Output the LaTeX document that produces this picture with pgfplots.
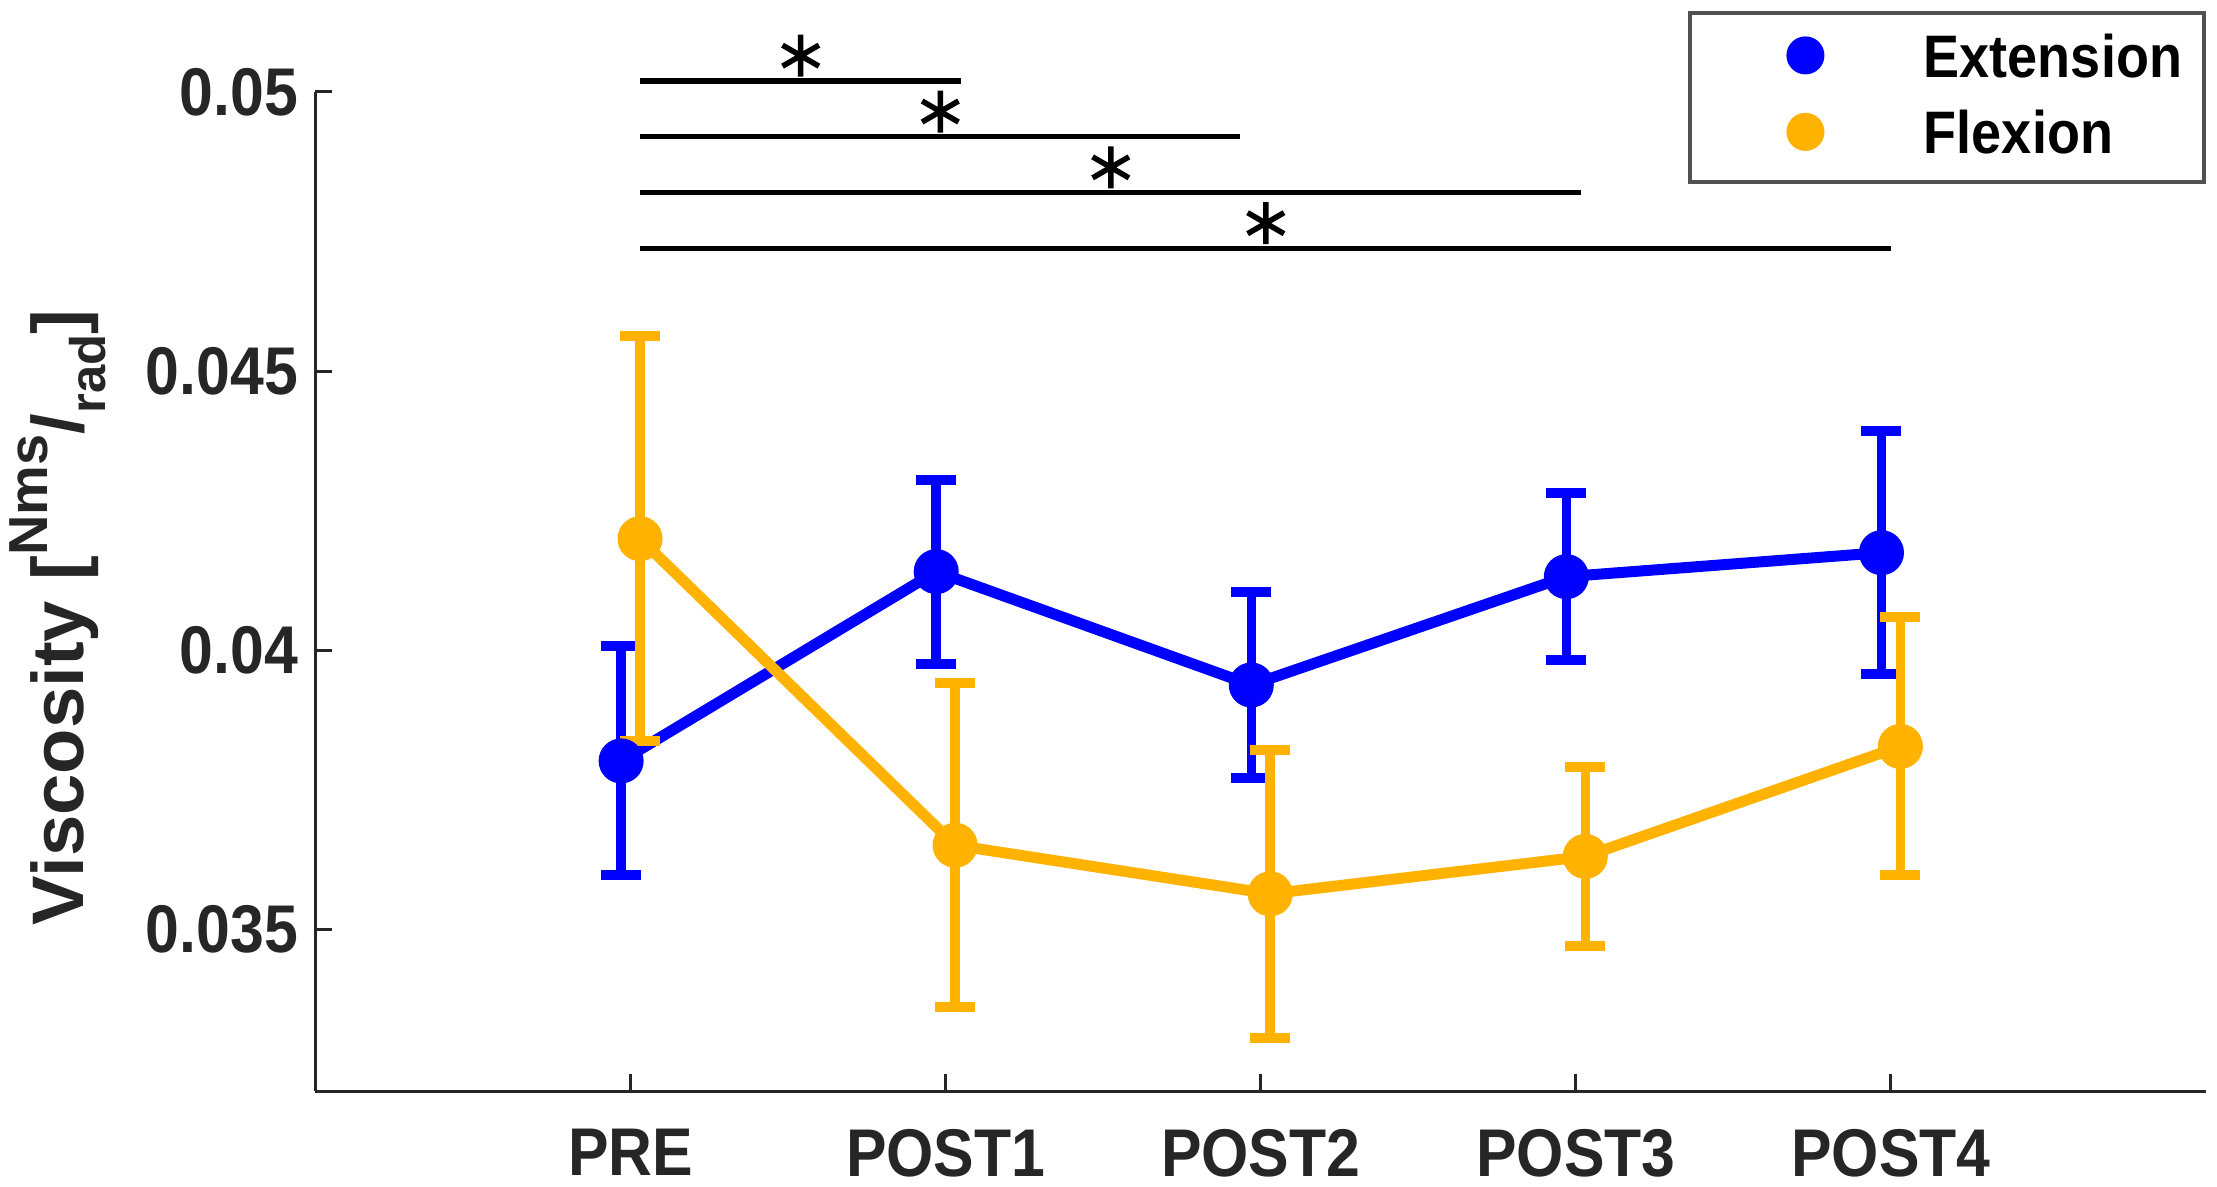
\documentclass[border=0pt]{standalone}
\usepackage{fontspec}
\setmainfont{Liberation Sans}[FakeStretch=0.9]
\usepackage{graphicx}
\usepackage{pgfplots}
\usepackage{pgfplotstable}
\pgfplotsset{compat=1.18}
\definecolor{ext}{RGB}{0,0,255}
\definecolor{flx}{RGB}{255,178,0}
\definecolor{axc}{RGB}{38,38,38}

\pgfplotstableread{
x y e
0.97 0.03802 0.00205
1.97 0.04141 0.00165
2.97 0.03938 0.00166
3.97 0.04132 0.00150
4.97 0.04175 0.00218
}\exttab
\pgfplotstableread{
x y e
1.03 0.04200 0.00363
2.03 0.03651 0.00290
3.03 0.03564 0.00258
4.03 0.03631 0.00160
5.03 0.03828 0.00231
}\flxtab

\begin{document}
\begin{tikzpicture}
\begin{axis}[
  name=ax,
  scale only axis, width=378.1pt, height=199.9pt,
  xmin=0, xmax=6, ymin=0.0321, ymax=0.05,
  axis x line=bottom, axis y line=left,
  axis line style={-, axc, line width=0.6pt},
  tick align=inside, major tick length=3.4pt,
  tick style={axc, line width=0.6pt},
  xtick={1,2,3,4,5}, xticklabels={PRE,POST1,POST2,POST3,POST4},
  ytick={0.035,0.04,0.045,0.05}, yticklabels={0.035,0.04,0.045,0.05},
  scaled y ticks=false,
  ticklabel style={font=\fontsize{13.5}{16}\selectfont\bfseries, text=axc},
  xticklabel style={yshift=-4pt},
  clip=false,
  ylabel={\scalebox{1.13}[1]{Viscosity [\raisebox{0.5em}{\fontsize{11}{11}\selectfont Nms}/\raisebox{-0.3em}{\fontsize{10}{10}\selectfont rad}]}},
  every axis y label/.style={at={(axis description cs:-0.1227,0.474)}, anchor=base, rotate=90,
     font=\fontsize{14.6}{17}\selectfont\bfseries, text=axc},
  legend image code/.code={\path (-22.7pt,0pt) (10pt,0pt); \draw[#1] plot coordinates {(0pt,0.8pt)};},
  legend style={at={(rel axis cs:1,1.0806)}, anchor=north east, draw=axc!80, line width=0.8pt,
     inner xsep=0pt, inner ysep=4.1pt, row sep=5.1pt, column sep=13.3pt,
     font=\fontsize{12}{14}\selectfont\bfseries, nodes={inner sep=0pt}},
  legend cell align=left,
]
% significance lines
\addplot[black, line width=1.1pt, forget plot] coordinates {(1.031,0.0502) (2.05,0.0502)};
\addplot[black, line width=1.1pt, forget plot] coordinates {(1.031,0.0492) (2.935,0.0492)};
\addplot[black, line width=1.1pt, forget plot] coordinates {(1.031,0.0482) (4.017,0.0482)};
\addplot[black, line width=1.1pt, forget plot] coordinates {(1.031,0.0472) (5.0,0.0472)};
\addplot[black, only marks, mark=asterisk, mark size=4.2pt, mark options={line width=1.1pt}, forget plot]
  coordinates {(1.54,0.05065) (1.983,0.04965) (2.524,0.04865) (3.016,0.04765)};
% data
\addplot[ext, line width=2.2pt, mark=*, mark size=3.4pt, forget plot,
  error bars/.cd, y dir=both, y explicit,
  error bar style={line width=1.9pt, ext},
  error mark options={rotate=90, mark size=4pt, line width=2pt, ext}]
  table[x=x, y=y, y error=e] {\exttab};
\addplot[flx, line width=2.2pt, mark=*, mark size=3.4pt, forget plot,
  error bars/.cd, y dir=both, y explicit,
  error bar style={line width=1.9pt, flx},
  error mark options={rotate=90, mark size=4pt, line width=2pt, flx}]
  table[x=x, y=y, y error=e] {\flxtab};
\addlegendimage{only marks, mark=*, ext, mark size=3.4pt}
\addlegendentry{Extension\hspace*{4.4pt}}
\addlegendimage{only marks, mark=*, flx, mark size=3.4pt}
\addlegendentry{Flexion}
\end{axis}
\pgfresetboundingbox
\path[use as bounding box] ([xshift=-63.1pt,yshift=-19.1pt]ax.south west) rectangle ([xshift=2.2pt,yshift=18.4pt]ax.north east);
\end{tikzpicture}
\end{document}
